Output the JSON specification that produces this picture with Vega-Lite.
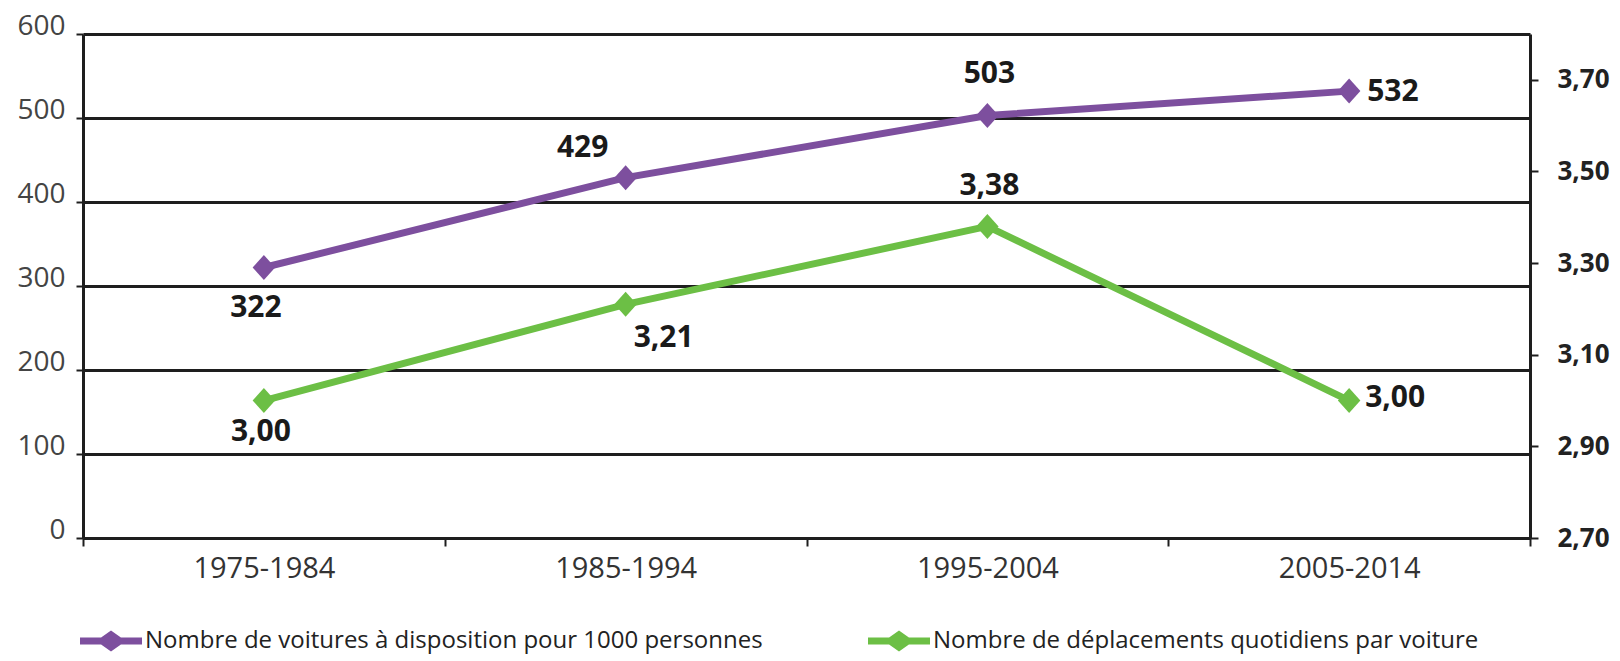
{
  "$schema": "https://vega.github.io/schema/vega-lite/v6.json",
  "autosize": {"type": "none"},
  "width": 1447,
  "height": 504,
  "padding": {"left": 83, "top": 34, "right": 90, "bottom": 123},
  "background": "white",
  "config": {
    "locale": {"number": {"decimal": ",", "thousands": " ", "grouping": [3], "currency": ["", " €"]}},
    "view": {"stroke": null},
    "font": "Open Sans"
  },
  "datasets": {
    "d": [
      {"periode": "1975-1984", "serie": "voitures", "valeur": 322},
      {"periode": "1985-1994", "serie": "voitures", "valeur": 429},
      {"periode": "1995-2004", "serie": "voitures", "valeur": 503},
      {"periode": "2005-2014", "serie": "voitures", "valeur": 532},
      {"periode": "1975-1984", "serie": "deplacements", "valeur": 3.00},
      {"periode": "1985-1994", "serie": "deplacements", "valeur": 3.21},
      {"periode": "1995-2004", "serie": "deplacements", "valeur": 3.38},
      {"periode": "2005-2014", "serie": "deplacements", "valeur": 3.00}
    ]
  },
  "data": {"name": "d"},
  "encoding": {
    "x": {
      "field": "periode",
      "type": "ordinal",
      "sort": null,
      "bandPosition": 0.5,
      "scale": {"type": "band", "paddingInner": 0, "paddingOuter": 0},
      "axis": {
        "title": null,
        "orient": "bottom",
        "tickBand": "extent",
        "domain": true,
        "domainColor": "#1e1e1e",
        "domainWidth": 3,
        "ticks": true,
        "tickSize": 8,
        "tickWidth": 2,
        "tickColor": "#1e1e1e",
        "grid": false,
        "labelAngle": 0,
        "labelFont": "Open Sans",
        "labelFontSize": 29,
        "labelColor": "#333333",
        "labelPadding": 8
      }
    }
  },
  "layer": [
    {
      "transform": [{"filter": "datum.serie === 'voitures'"}],
      "encoding": {
        "y": {
          "field": "valeur",
          "type": "quantitative",
          "scale": {"domain": [0, 600], "nice": false},
          "axis": {
            "title": null,
            "orient": "left",
            "values": [0, 100, 200, 300, 400, 500, 600],
            "grid": true,
            "gridColor": "#1e1e1e",
            "gridWidth": 3,
            "gridOpacity": 1,
            "domain": true,
            "domainColor": "#1e1e1e",
            "domainWidth": 3,
            "ticks": true,
            "tickSize": 7,
            "tickWidth": 2,
            "tickColor": "#1e1e1e",
            "labelFont": "Open Sans",
            "labelFontSize": 28,
            "labelColor": "#444444",
            "labelBaseline": "alphabetic",
            "labelPadding": 11
          }
        }
      },
      "layer": [
        {
          "mark": {"type": "line", "strokeWidth": 7},
          "encoding": {
            "color": {
              "datum": "Nombre de voitures à disposition pour 1000 personnes",
              "type": "nominal",
              "scale": {
                "domain": ["Nombre de voitures à disposition pour 1000 personnes", "Nombre de déplacements quotidiens par voiture"],
                "range": ["#7d4f9e", "#6cbf45"]
              },
              "legend": {
                "title": null,
                "orient": "none",
                "legendX": -3,
                "legendY": 576,
                "direction": "horizontal",
                "symbolType": "M-1,-0.11L-0.32,-0.11L0,-0.34L0.32,-0.11L1,-0.11L1,0.11L0.32,0.11L0,0.34L-0.32,0.11L-1,0.11Z",
                "symbolSize": 3844,
                "symbolStrokeWidth": 0,
                "symbolOpacity": 1,
                "labelFont": "Open Sans",
                "labelFontSize": 24,
                "labelColor": "#222222",
                "labelOffset": 3,
                "labelLimit": 1000,
                "columnPadding": 105,
                "encode": {
                  "symbols": {
                    "update": {
                      "fill": {"scale": "color", "field": "value"},
                      "stroke": {"value": "transparent"}
                    }
                  }
                }
              }
            }
          }
        },
        {
          "mark": {"type": "point", "filled": true, "opacity": 1, "size": 625, "shape": "M-0.9,0L0,-1L0.9,0L0,1Z"},
          "encoding": {
            "color": {
              "datum": "Nombre de voitures à disposition pour 1000 personnes",
              "type": "nominal",
              "scale": {
                "domain": ["Nombre de voitures à disposition pour 1000 personnes", "Nombre de déplacements quotidiens par voiture"],
                "range": ["#7d4f9e", "#6cbf45"]
              }
            }
          }
        },
        {
          "transform": [{"filter": "datum.periode === '1975-1984'"}],
          "mark": {"type": "text", "font": "Open Sans", "fontSize": 30, "fontWeight": "bold", "color": "#1a1a1a", "dx": -8, "dy": 40},
          "encoding": {"text": {"field": "valeur", "type": "quantitative", "format": "d"}}
        },
        {
          "transform": [{"filter": "datum.periode === '1985-1994'"}],
          "mark": {"type": "text", "font": "Open Sans", "fontSize": 30, "fontWeight": "bold", "color": "#1a1a1a", "dx": -43, "dy": -30},
          "encoding": {"text": {"field": "valeur", "type": "quantitative", "format": "d"}}
        },
        {
          "transform": [{"filter": "datum.periode === '1995-2004'"}],
          "mark": {"type": "text", "font": "Open Sans", "fontSize": 30, "fontWeight": "bold", "color": "#1a1a1a", "dx": 2, "dy": -41},
          "encoding": {"text": {"field": "valeur", "type": "quantitative", "format": "d"}}
        },
        {
          "transform": [{"filter": "datum.periode === '2005-2014'"}],
          "mark": {"type": "text", "font": "Open Sans", "fontSize": 30, "fontWeight": "bold", "color": "#1a1a1a", "align": "left", "dx": 18, "dy": 1},
          "encoding": {"text": {"field": "valeur", "type": "quantitative", "format": "d"}}
        }
      ]
    },
    {
      "transform": [{"filter": "datum.serie === 'deplacements'"}],
      "encoding": {
        "y": {
          "field": "valeur",
          "type": "quantitative",
          "scale": {"domain": [2.7, 3.8], "nice": false, "zero": false},
          "axis": {
            "title": null,
            "orient": "right",
            "values": [2.7, 2.9, 3.1, 3.3, 3.5, 3.7],
            "format": ".2f",
            "grid": false,
            "domain": true,
            "domainColor": "#1e1e1e",
            "domainWidth": 3,
            "ticks": true,
            "tickSize": 8,
            "tickWidth": 2,
            "tickColor": "#1e1e1e",
            "labelFont": "Open Sans",
            "labelFontSize": 26,
            "labelFontWeight": "bold",
            "labelColor": "#222222",
            "labelPadding": 19
          }
        }
      },
      "layer": [
        {
          "mark": {"type": "line", "strokeWidth": 7},
          "encoding": {
            "color": {
              "datum": "Nombre de déplacements quotidiens par voiture",
              "type": "nominal",
              "scale": {
                "domain": ["Nombre de voitures à disposition pour 1000 personnes", "Nombre de déplacements quotidiens par voiture"],
                "range": ["#7d4f9e", "#6cbf45"]
              }
            }
          }
        },
        {
          "mark": {"type": "point", "filled": true, "opacity": 1, "size": 625, "shape": "M-0.9,0L0,-1L0.9,0L0,1Z"},
          "encoding": {
            "color": {
              "datum": "Nombre de déplacements quotidiens par voiture",
              "type": "nominal",
              "scale": {
                "domain": ["Nombre de voitures à disposition pour 1000 personnes", "Nombre de déplacements quotidiens par voiture"],
                "range": ["#7d4f9e", "#6cbf45"]
              }
            }
          }
        },
        {
          "transform": [{"filter": "datum.periode === '1975-1984'"}],
          "mark": {"type": "text", "font": "Open Sans", "fontSize": 30, "fontWeight": "bold", "color": "#1a1a1a", "dx": -3, "dy": 31},
          "encoding": {"text": {"field": "valeur", "type": "quantitative", "format": ".2f"}}
        },
        {
          "transform": [{"filter": "datum.periode === '1985-1994'"}],
          "mark": {"type": "text", "font": "Open Sans", "fontSize": 30, "fontWeight": "bold", "color": "#1a1a1a", "dx": 38, "dy": 34},
          "encoding": {"text": {"field": "valeur", "type": "quantitative", "format": ".2f"}}
        },
        {
          "transform": [{"filter": "datum.periode === '1995-2004'"}],
          "mark": {"type": "text", "font": "Open Sans", "fontSize": 30, "fontWeight": "bold", "color": "#1a1a1a", "dx": 2, "dy": -40},
          "encoding": {"text": {"field": "valeur", "type": "quantitative", "format": ".2f"}}
        },
        {
          "transform": [{"filter": "datum.periode === '2005-2014'"}],
          "mark": {"type": "text", "font": "Open Sans", "fontSize": 30, "fontWeight": "bold", "color": "#1a1a1a", "align": "left", "dx": 16, "dy": -3},
          "encoding": {"text": {"field": "valeur", "type": "quantitative", "format": ".2f"}}
        }
      ]
    }
  ],
  "resolve": {"scale": {"y": "independent"}}
}
